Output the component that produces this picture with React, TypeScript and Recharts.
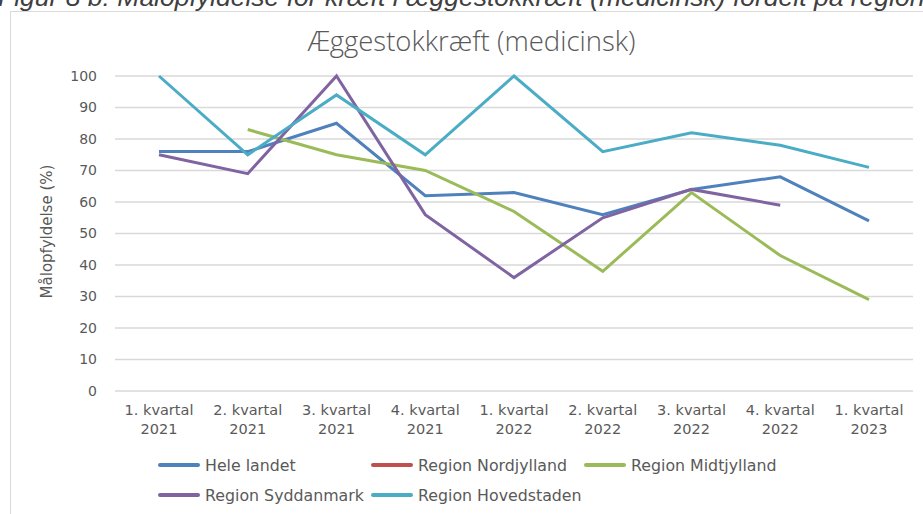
import React from "react";
import { LineChart, Line, XAxis, YAxis, CartesianGrid } from "recharts";

const categories = [
  "1. kvartal 2021",
  "2. kvartal 2021",
  "3. kvartal 2021",
  "4. kvartal 2021",
  "1. kvartal 2022",
  "2. kvartal 2022",
  "3. kvartal 2022",
  "4. kvartal 2022",
  "1. kvartal 2023",
];

const heleLandet = [76, 76, 85, 62, 63, 56, 64, 68, 54];
const nordjylland: (number | null)[] = [null, null, null, null, null, null, null, null, null];
const midtjylland = [null, 83, 75, 70, 57, 38, 63, 43, 29];
const syddanmark = [75, 69, 100, 56, 36, 55, 64, 59, null];
const hovedstaden = [100, 75, 94, 75, 100, 76, 82, 78, 71];

const yTicks = [0, 10, 20, 30, 40, 50, 60, 70, 80, 90, 100];

const seriesNames = [
  "Hele landet",
  "Region Nordjylland",
  "Region Midtjylland",
  "Region Syddanmark",
  "Region Hovedstaden",
];
const seriesKeys = ["hele", "nord", "midt", "syd", "hoved"];
const seriesColors = ["#4F81BD", "#C0504D", "#9BBB59", "#8064A2", "#4BACC6"];

const data = categories.map((c, i) => ({
  cat: c,
  hele: heleLandet[i],
  nord: nordjylland[i],
  midt: midtjylland[i],
  syd: syddanmark[i],
  hoved: hovedstaden[i],
}));

const FONT = "'DejaVu Sans', sans-serif";
const TXT = "#595959";

const XTick = (props: any) => {
  const { x, y, payload } = props;
  const s = String(payload.value);
  const idx = s.lastIndexOf(" ");
  const l1 = s.slice(0, idx);
  const l2 = s.slice(idx + 1);
  return (
    <text x={x} y={y} textAnchor="middle" fill={TXT} fontSize={14.5} fontFamily={FONT}>
      <tspan x={x} dy="0.72em">{l1}</tspan>
      <tspan x={x} dy="1.25em">{l2}</tspan>
    </text>
  );
};

const YLabel = (props: any) => {
  const vb = props.viewBox || { x: 0, y: 0, width: 0, height: 0 };
  const cx = vb.x + 47;
  const cy = vb.y + vb.height / 2 - 2;
  return (
    <text
      x={cx}
      y={cy}
      transform={`rotate(-90, ${cx}, ${cy})`}
      textAnchor="middle"
      dominantBaseline="central"
      fill={TXT}
      fontSize={15}
      fontFamily={FONT}
    >
      Målopfyldelse (%)
    </text>
  );
};

export default function App() {
  return (
    <div
      style={{
        position: "absolute",
        left: 0,
        top: 0,
        width: 923,
        height: 514,
        overflow: "hidden",
        background: "#fff",
      }}
    >
      <div
        style={{
          position: "absolute",
          left: -2,
          top: -18,
          whiteSpace: "nowrap",
          fontFamily: "'Liberation Sans', sans-serif",
          fontStyle: "italic",
          fontSize: 26.5,
          lineHeight: "30px",
          color: "#404040",
        }}
      >
        Figur 8 b: Målopfyldelse for kræft i æggestokkræft (medicinsk) fordelt på regioner
      </div>
      <div
        style={{
          position: "absolute",
          left: 10,
          top: 11,
          width: 1000,
          height: 600,
          border: "1px solid #D9D9D9",
          background: "#fff",
        }}
      />
      <div
        style={{
          position: "absolute",
          left: 0,
          top: 22,
          width: 943,
          textAlign: "center",
          fontFamily: "'Open Sans', sans-serif",
          fontWeight: 300,
          fontSize: 27.5,
          lineHeight: "38px",
          color: TXT,
        }}
      >
        Æggestokkræft (medicinsk)
      </div>
      <div style={{ position: "absolute", left: 0, top: 0 }}>
        <LineChart
          width={923}
          height={514}
          data={data}
          margin={{ top: 76, right: 10, left: 0, bottom: 0 }}
        >
          <CartesianGrid vertical={false} stroke="#D9D9D9" strokeWidth={1.5} />
          <XAxis
            dataKey="cat"
            height={123}
            padding={{ left: 44, right: 44 }}
            axisLine={false}
            tickLine={false}
            tickSize={0}
            tickMargin={14}
            interval={0}
            tick={<XTick />}
          />
          <YAxis
            width={115}
            domain={[0, 100]}
            ticks={yTicks}
            interval={0}
            axisLine={false}
            tickLine={false}
            tickSize={0}
            tickMargin={18}
            tick={{ fill: TXT, fontSize: 14, fontFamily: FONT }}
            label={<YLabel />}
          />
          {seriesKeys.map((k, i) => (
            <Line
              key={k}
              type="linear"
              dataKey={k}
              name={seriesNames[i]}
              stroke={seriesColors[i]}
              strokeWidth={3}
              dot={false}
              activeDot={false}
              isAnimationActive={false}
            />
          ))}
        </LineChart>
      </div>
      {seriesNames.map((n, i) => {
        const col = i < 3 ? i : i - 3;
        const row = i < 3 ? 0 : 1;
        const left = 158 + col * 213;
        const top = 455 + row * 30;
        return (
          <div
            key={n}
            style={{
              position: "absolute",
              left,
              top,
              height: 20,
              display: "flex",
              alignItems: "center",
              whiteSpace: "nowrap",
              fontFamily: FONT,
              fontSize: 15.8,
              color: TXT,
            }}
          >
            <span
              style={{
                display: "inline-block",
                width: 42,
                height: 4,
                borderRadius: 2,
                background: seriesColors[i],
                marginRight: 5,
              }}
            />
            {n}
          </div>
        );
      })}
    </div>
  );
}
